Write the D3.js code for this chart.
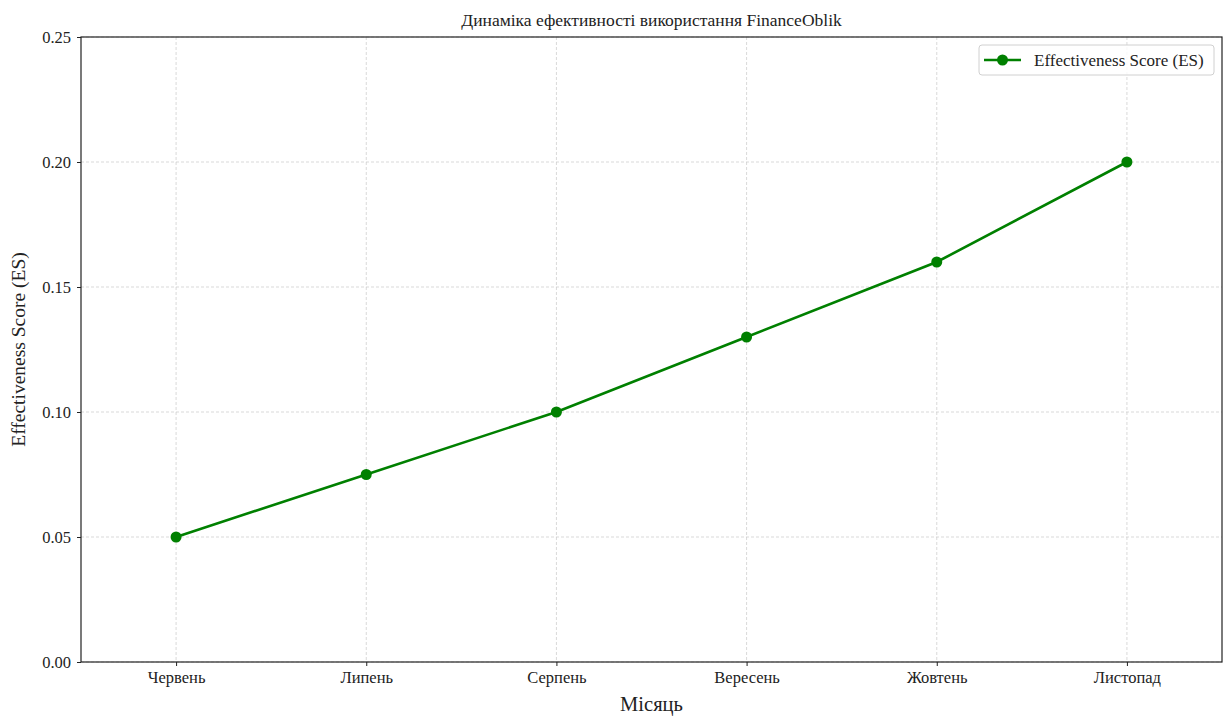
<!DOCTYPE html>
<html><head><meta charset="utf-8">
<script src="https://cdn.jsdelivr.net/npm/d3@7"></script>
<style>body{margin:0;background:#fff;} text{font-family:"Liberation Serif","DejaVu Serif",serif;}</style>
</head><body>
<svg id="c" width="1224" height="716"></svg>
<script>
const months = ["Червень","Липень","Серпень","Вересень","Жовтень","Листопад"];
const esValues = [0.05, 0.075, 0.10, 0.13, 0.16, 0.20];
const yTicks = [0, 0.05, 0.10, 0.15, 0.20, 0.25];
const title = "Динаміка ефективності використання FinanceOblik";
const xLabel = "Місяць";
const yLabel = "Effectiveness Score (ES)";
const seriesName = "Effectiveness Score (ES)";

const svg = d3.select("#c");
const L=81, R=1222, T=37, B=662;
const x = d3.scaleLinear().domain([-0.5, months.length-0.5]).range([L,R]);
const y = d3.scaleLinear().domain([0,0.25]).range([B,T]);
const color = "#008000";

// grid
svg.append("g").selectAll("line.v").data(months).join("line")
  .attr("x1",(d,i)=>x(i)).attr("x2",(d,i)=>x(i)).attr("y1",T).attr("y2",B)
  .attr("stroke","#c8c8c8").attr("stroke-width",0.7).attr("stroke-dasharray","3,2");
svg.append("g").selectAll("line.h").data(yTicks).join("line")
  .attr("x1",L).attr("x2",R).attr("y1",d=>y(d)).attr("y2",d=>y(d))
  .attr("stroke","#c8c8c8").attr("stroke-width",0.7).attr("stroke-dasharray","3,2");

// axes
const xAxis = d3.axisBottom(x).tickValues(months.map((d,i)=>i)).tickFormat(i=>months[i]).tickSize(4).tickPadding(5);
const gx = svg.append("g").attr("transform",`translate(0,${B})`).call(xAxis);
const yAxis = d3.axisLeft(y).tickValues(yTicks).tickFormat(d3.format(".2f")).tickSize(4).tickPadding(6);
const gy = svg.append("g").attr("transform",`translate(${L},0)`).call(yAxis);
[gx,gy].forEach(g=>{
  g.select(".domain").remove();
  g.selectAll("text").attr("font-size",16.5).attr("fill","#222").attr("font-family","Liberation Serif, serif");
  g.selectAll("line").attr("stroke","#222");
});
svg.append("rect").attr("x",L).attr("y",T).attr("width",R-L).attr("height",B-T)
  .attr("fill","none").attr("stroke","#222").attr("stroke-width",1.2);

// line
const line = d3.line().x((d,i)=>x(i)).y(d=>y(d));
svg.append("path").datum(esValues).attr("d",line).attr("fill","none").attr("stroke",color).attr("stroke-width",2.6);
svg.append("g").selectAll("circle").data(esValues).join("circle")
  .attr("cx",(d,i)=>x(i)).attr("cy",d=>y(d)).attr("r",5.5).attr("fill",color);

// titles
svg.append("text").attr("x",(L+R)/2).attr("y",26).attr("text-anchor","middle").attr("font-size",17.5).attr("fill","#222").text(title);
svg.append("text").attr("x",(L+R)/2).attr("y",711).attr("text-anchor","middle").attr("font-size",20.5).attr("fill","#222").text(xLabel);
svg.append("text").attr("transform",`translate(25,${(T+B)/2}) rotate(-90)`).attr("text-anchor","middle").attr("font-size",19.5).attr("fill","#222").text(yLabel);

// legend
const lg = svg.append("g");
lg.append("rect").attr("x",979).attr("y",45).attr("width",235).attr("height",30).attr("rx",3)
  .attr("fill","#fff").attr("fill-opacity",0.8).attr("stroke","#d0d0d0");
lg.append("line").attr("x1",984).attr("x2",1021).attr("y1",60).attr("y2",60).attr("stroke",color).attr("stroke-width",2.6);
lg.append("circle").attr("cx",1002.5).attr("cy",60).attr("r",5.5).attr("fill",color);
lg.append("text").attr("x",1034).attr("y",66).attr("font-size",17).attr("fill","#222").text(seriesName);
</script>
</body></html>
